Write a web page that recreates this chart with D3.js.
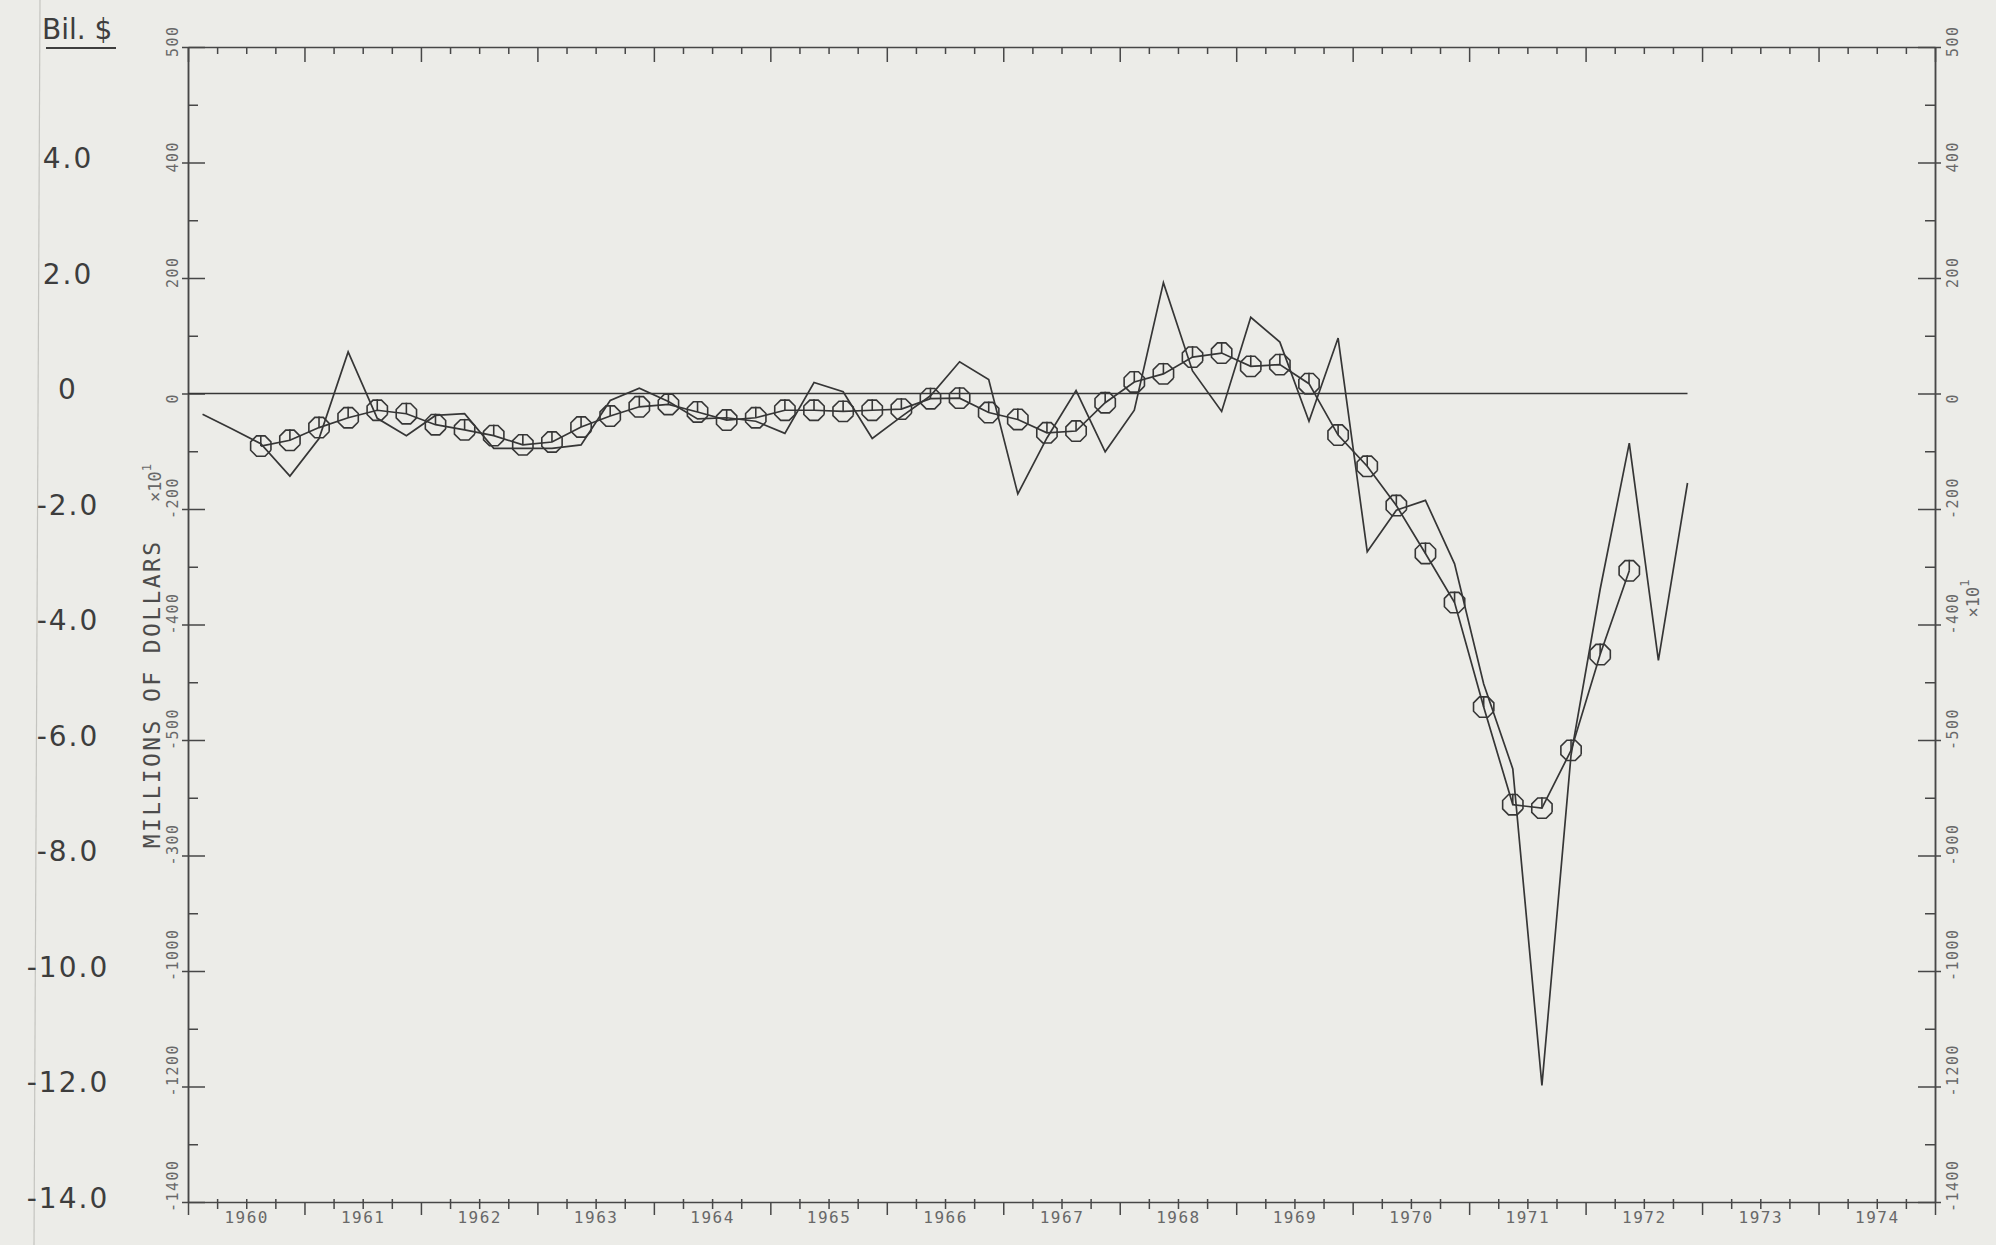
<!DOCTYPE html>
<html>
<head>
<meta charset="utf-8">
<script src="https://cdn.jsdelivr.net/npm/d3@7"></script>
<style>
  body { margin: 0; background: #ecece8; }
  svg { display: block; }
  .plot-text { font-family: 'DejaVu Sans Mono', monospace; fill: #686868; }
  .hand { font-family: 'DejaVu Sans', sans-serif; fill: #3d3d3d; }
  .axis path, .axis line { stroke: #474747; stroke-width: 1.5; }
  .series { fill: none; stroke: #363636; stroke-width: 1.7; }
  .marker { fill: none; stroke: #363636; stroke-width: 1.6; }
</style>
</head>
<body>
<svg width="1996" height="1245"></svg>
<script>
const svg = d3.select('svg');
const width = +svg.attr('width');
const height = +svg.attr('height');

// quarterly series, first value is 1960 Q1
const startYear = 1960;
const endYear = 1975;
const rawValues = [
  -36, -61, -87, -143, -78, 72, -43, -73, -38, -35, -95, -95, -95,
  -89, -12, 9, -14, -44, -42, -48, -69, 19, 3, -78, -40, -4,
  55, 24, -174, -77, 5, -101, -29, 192, 39, -31, 132, 89, -48,
  96, -274, -202, -185, -295, -503, -650, -1198, -626, -339, -86, -462, -155
];
// smoothed series starts at 1960 Q3
const smoothStart = 2;
const smoothValues = [
  -91, -81, -59, -42, -29, -35, -54, -63, -73, -89, -84,
  -58, -39, -23, -19, -32, -46, -42, -29, -29, -31, -29, -27, -9,
  -8, -33, -45, -68, -65, -16, 20, 34, 63, 70, 47, 50, 17,
  -72, -126, -194, -277, -362, -543, -712, -718, -618, -452, -307
];

const yTickValues = [600, 400, 200, 0, -200, -400, -600, -800, -1000, -1200, -1400];
const leftTickLabels = ['500', '400', '200', '0', '-200', '-400', '-500', '-300', '-1000', '-1200', '-1400'];
const rightTickLabels = ['500', '400', '200', '0', '-200', '-400', '-500', '-900', '-1000', '-1200', '-1400'];
const yearLabels = ['1960', '1961', '1962', '1963', '1964', '1965', '1966', '1967',
  '1968', '1969', '1970', '1971', '1972', '1973', '1974'];

// pencil notes in billions on the left margin
const handValues = [400, 200, 0, -200, -400, -600, -800, -1000, -1200, -1400];
const handLabels = ['4.0', '2.0', '0', '-2.0', '-4.0', '-6.0', '-8.0', '-10.0', '-12.0', '-14.0'];
const handTitle = 'Bil. $';
const yAxisLabel = 'MILLIONS OF DOLLARS';

const margin = {top: 47, right: 61, bottom: 43, left: 188};
const x0 = margin.left;
const x1 = width - margin.right;
const y0 = margin.top;
const y1 = height - margin.bottom;

const quarterTime = i => startYear + (i + 0.5) / 4;
const rawData = rawValues.map((v, i) => ({t: quarterTime(i), v}));
const smoothData = smoothValues.map((v, i) => ({t: quarterTime(i + smoothStart), v}));

const xScale = d3.scaleLinear().domain([startYear, endYear]).range([x0, x1]);
const yScale = d3.scaleLinear().domain([-1400, 600]).range([y1, y0]);

svg.append('rect').attr('width', width).attr('height', height).attr('fill', '#ecece8');

// faint fold line of the paper
svg.append('line')
  .attr('x1', 40).attr('y1', 0).attr('x2', 34).attr('y2', height)
  .attr('stroke', '#c4c4c0').attr('stroke-width', 1.2);

const quarterTicks = d3.range(0, (endYear - startYear) * 4 + 1).map(i => startYear + i / 4).filter(t => t % 1 !== 0);
const yearTicks = d3.range(startYear, endYear + 1);
const minorY = d3.range(-1400, 601, 100).filter(v => v % 200 !== 0);

// bottom axis
const bottomMinor = svg.append('g').attr('class', 'axis')
  .attr('transform', `translate(0,${y1})`)
  .call(d3.axisBottom(xScale).tickValues(quarterTicks).tickSize(7).tickSizeOuter(0).tickFormat(''));
bottomMinor.selectAll('line').attr('y1', -3);
svg.append('g').attr('class', 'axis')
  .attr('transform', `translate(0,${y1})`)
  .call(d3.axisBottom(xScale).tickValues(yearTicks).tickSize(13).tickSizeOuter(0).tickFormat(''))
  .select('.domain').remove();

const yearAxis = svg.append('g')
  .attr('transform', `translate(0,${y1})`)
  .call(d3.axisBottom(xScale)
    .tickValues(yearTicks.slice(0, -1).map(y => y + 0.5))
    .tickSize(0).tickPadding(10)
    .tickFormat(d => yearLabels[Math.floor(d) - startYear]));
yearAxis.select('.domain').remove();
yearAxis.selectAll('text')
  .attr('class', 'plot-text')
  .attr('font-size', 16)
  .attr('letter-spacing', 1.5)
  .attr('fill', null);

// top axis, ticks point into the plot
svg.append('g').attr('class', 'axis')
  .attr('transform', `translate(0,${y0})`)
  .call(d3.axisBottom(xScale).tickValues(quarterTicks).tickSize(7).tickSizeOuter(0).tickFormat(''));
svg.append('g').attr('class', 'axis')
  .attr('transform', `translate(0,${y0})`)
  .call(d3.axisBottom(xScale).tickValues(yearTicks).tickSize(15).tickSizeOuter(0).tickFormat(''))
  .select('.domain').remove();

// left axis
svg.append('g').attr('class', 'axis')
  .attr('transform', `translate(${x0},0)`)
  .call(d3.axisRight(yScale).tickValues(minorY).tickSize(10).tickSizeOuter(0).tickFormat(''));
svg.append('g').attr('class', 'axis')
  .attr('transform', `translate(${x0},0)`)
  .call(d3.axisRight(yScale).tickValues(yTickValues).tickSize(17).tickSizeOuter(0).tickFormat(''))
  .selectAll('line').attr('x1', -6);

// right axis
svg.append('g').attr('class', 'axis')
  .attr('transform', `translate(${x1},0)`)
  .call(d3.axisLeft(yScale).tickValues(minorY).tickSize(10).tickSizeOuter(0).tickFormat(''));
svg.append('g').attr('class', 'axis')
  .attr('transform', `translate(${x1},0)`)
  .call(d3.axisLeft(yScale).tickValues(yTickValues).tickSize(17).tickSizeOuter(0).tickFormat(''))
  .selectAll('line').attr('x1', 6);

const tickLabel = (labels, xPos) => {
  svg.append('g').selectAll('text').data(yTickValues).enter().append('text')
    .attr('class', 'plot-text')
    .attr('font-size', 15)
    .attr('letter-spacing', 1.5)
    .attr('dominant-baseline', 'central')
    .attr('text-anchor', 'start')
    .attr('transform', d => `translate(${xPos},${yScale(d) + 10}) rotate(-90)`)
    .text((d, i) => labels[i]);
};
tickLabel(leftTickLabels, x0 - 15);
tickLabel(rightTickLabels, x1 + 18);

// axis title and scale factor
svg.append('text')
  .attr('class', 'plot-text')
  .attr('font-size', 23)
  .attr('letter-spacing', 2.4)
  .attr('text-anchor', 'middle')
  .attr('dominant-baseline', 'central')
  .style('fill', '#4c4c4c')
  .attr('transform', `translate(${x0 - 36},${yScale(-520)}) rotate(-90)`)
  .text(yAxisLabel);

const scaleNote = (xPos, yVal) => {
  const t = svg.append('text')
    .attr('class', 'plot-text')
    .attr('font-size', 17)
    .attr('text-anchor', 'middle')
    .attr('dominant-baseline', 'central')
    .attr('transform', `translate(${xPos},${yScale(yVal)}) rotate(-90)`);
  t.append('tspan').text('×10');
  t.append('tspan').attr('font-size', 12).attr('dy', -8).text('1');
};
scaleNote(x0 - 33, -155);
scaleNote(x1 + 38, -355);

const lineGenerator = d3.line()
  .x(d => xScale(d.t))
  .y(d => yScale(d.v));

// zero line
svg.append('path')
  .attr('class', 'series')
  .attr('d', lineGenerator([{t: startYear, v: 0}, {t: rawData[rawData.length - 1].t, v: 0}]));

svg.append('path')
  .attr('class', 'series')
  .attr('d', lineGenerator(rawData));

svg.append('path')
  .attr('class', 'series')
  .attr('d', lineGenerator(smoothData));

// octagon markers like the plotter symbol
const r = 11;
const octagon = d3.line()(d3.range(9).map(k => {
  const a = Math.PI / 8 + k * Math.PI / 4;
  return [r * Math.cos(a), r * Math.sin(a)];
}));
const markers = svg.append('g').selectAll('g').data(smoothData).enter().append('g')
  .attr('transform', d => `translate(${xScale(d.t)},${yScale(d.v)})`);
markers.append('path').attr('class', 'marker').attr('d', octagon);
markers.append('line').attr('class', 'marker')
  .attr('x1', 0).attr('y1', 0).attr('x2', 0).attr('y2', -r);

// handwritten annotations
svg.append('g').selectAll('text').data(handValues).enter().append('text')
  .attr('class', 'hand')
  .attr('font-size', 28)
  .attr('letter-spacing', 2)
  .attr('text-anchor', 'middle')
  .attr('dominant-baseline', 'central')
  .attr('x', 68)
  .attr('y', d => yScale(d) - 4)
  .text((d, i) => handLabels[i]);

svg.append('text')
  .attr('class', 'hand')
  .attr('font-size', 28)
  .attr('x', 42)
  .attr('y', 39)
  .text(handTitle);
svg.append('line')
  .attr('x1', 46).attr('x2', 116).attr('y1', 48).attr('y2', 48)
  .attr('stroke', '#3d3d3d').attr('stroke-width', 2);
</script>
</body>
</html>
